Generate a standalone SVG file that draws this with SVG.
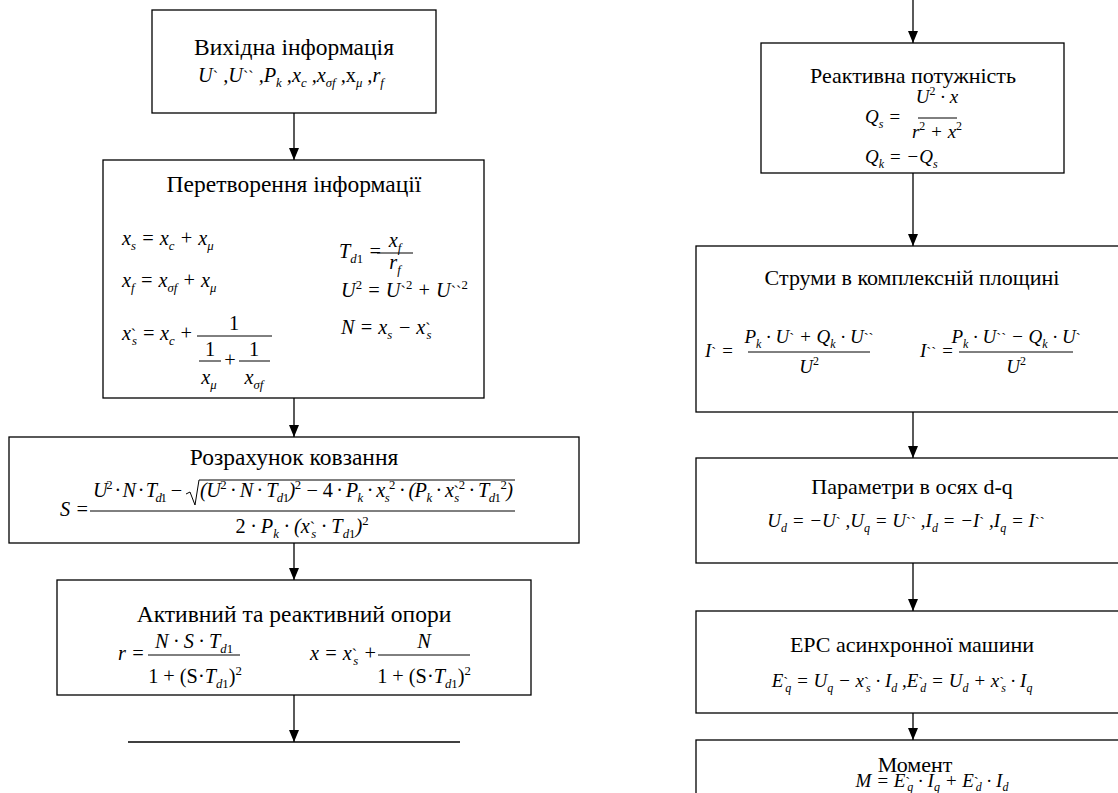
<svg xmlns="http://www.w3.org/2000/svg" width="1118" height="793" viewBox="0 0 1118 793" font-family="'Liberation Serif', serif">
<style>
.bx{fill:#fff;stroke:#000;stroke-width:1.3}
.ti{font-family:"Liberation Serif",serif;font-size:22px;text-anchor:middle;fill:#000}
.tl{font-size:23.5px}
.m{font-family:"Liberation Serif",serif;font-size:19px;font-style:italic;fill:#000}
.ml{font-size:20.3px}
.c{text-anchor:middle}
.s{font-size:0.63em}
.u{font-style:normal}
.a{font-size:0.79em;font-style:normal}
.bar{stroke:#000;stroke-width:1;fill:none}
.cn{stroke:#000;stroke-width:1.3;fill:none}
</style>
<defs>
<marker id="ah" markerUnits="userSpaceOnUse" markerWidth="12" markerHeight="10" refX="12" refY="5" orient="auto" viewBox="0 0 12 10"><path d="M0,0L12,5L0,10z" fill="#000"/></marker>
</defs>
<rect width="1118" height="793" fill="#fff"/>

<g id="connectors">
<line class="cn" x1="294" y1="113" x2="294" y2="160" marker-end="url(#ah)"/>
<line class="cn" x1="294" y1="398" x2="294" y2="437" marker-end="url(#ah)"/>
<line class="cn" x1="294" y1="543" x2="294" y2="580" marker-end="url(#ah)"/>
<line class="cn" x1="294" y1="695" x2="294" y2="742" marker-end="url(#ah)"/>
<line class="cn" x1="913" y1="0" x2="913" y2="43" marker-end="url(#ah)"/>
<line class="cn" x1="913" y1="173" x2="913" y2="246" marker-end="url(#ah)"/>
<line class="cn" x1="913" y1="412" x2="913" y2="458" marker-end="url(#ah)"/>
<line class="cn" x1="913" y1="563" x2="913" y2="611" marker-end="url(#ah)"/>
<line class="cn" x1="913" y1="713" x2="913" y2="740" marker-end="url(#ah)"/>
</g>

<g id="n1">
<rect class="bx" x="152" y="10" width="284" height="103"/>
<text class="ti tl" x="294" y="55">Вихідна інформація</text>
<text class="m ml c" x="291" y="82">U<tspan class="a">`</tspan> ,U<tspan class="a">``</tspan> ,P<tspan class="s" dy="5">k</tspan><tspan dy="-5"> ,x</tspan><tspan class="s" dy="5">c</tspan><tspan dy="-5"> ,x</tspan><tspan class="s" dy="5">σf</tspan><tspan dy="-5"> ,</tspan><tspan class="u">x</tspan><tspan class="s" dy="5">μ</tspan><tspan dy="-5"> ,r</tspan><tspan class="s" dy="5">f</tspan></text>
</g>

<g id="n2">
<rect class="bx" x="103" y="160" width="381" height="238"/>
<text class="ti tl" x="294" y="192">Перетворення інформації</text>
<text class="m ml" x="122" y="245">x<tspan class="s" dy="5">s</tspan><tspan dy="-5"> = x</tspan><tspan class="s" dy="5">c</tspan><tspan dy="-5"> + x</tspan><tspan class="s" dy="5">μ</tspan></text>
<text class="m ml" x="122" y="287">x<tspan class="s" dy="5">f</tspan><tspan dy="-5"> = x</tspan><tspan class="s" dy="5">σf</tspan><tspan dy="-5"> + x</tspan><tspan class="s" dy="5">μ</tspan></text>
<text class="m ml" x="122" y="340" textLength="71" lengthAdjust="spacing">x<tspan class="a">`</tspan><tspan class="s" dx="-4" dy="5">s</tspan><tspan dy="-5"> = x</tspan><tspan class="s" dy="5">c</tspan><tspan dy="-5"> +</tspan></text>
<text class="m ml c u" x="234" y="330">1</text>
<line class="bar" x1="197" y1="336" x2="272" y2="336"/>
<text class="m ml c u" x="210" y="356">1</text>
<line class="bar" x1="199" y1="361" x2="221" y2="361"/>
<text class="m ml c u" x="230" y="367">+</text>
<text class="m ml c u" x="254" y="356">1</text>
<line class="bar" x1="239" y1="361" x2="270" y2="361"/>
<text class="m ml c" x="209" y="384">x<tspan class="s" dy="5">μ</tspan></text>
<text class="m ml c" x="254" y="384">x<tspan class="s" dy="5">σf</tspan></text>
<text class="m ml" x="339" y="258">T<tspan class="s" dy="5">d<tspan class="u">1</tspan></tspan><tspan dy="-5"> =</tspan></text>
<text class="m ml c" x="395" y="247">x<tspan class="s" dy="5">f</tspan></text>
<line class="bar" x1="377" y1="253" x2="413" y2="253"/>
<text class="m ml c" x="395" y="269">r<tspan class="s" dy="5">f</tspan></text>
<text class="m ml" x="341" y="297">U<tspan class="s u" dy="-8">2</tspan><tspan dy="8"> = U</tspan><tspan class="a">`</tspan><tspan class="s u" dy="-8">2</tspan><tspan dy="8"> + U</tspan><tspan class="a">``</tspan><tspan class="s u" dy="-8">2</tspan></text>
<text class="m ml" x="341" y="334">N = x<tspan class="s" dy="5">s</tspan><tspan dy="-5"> − x</tspan><tspan class="a">`</tspan><tspan class="s" dx="-4" dy="5">s</tspan></text>
</g>

<g id="n3">
<rect class="bx" x="9" y="437" width="570" height="106"/>
<text class="ti tl" x="294" y="465">Розрахунок ковзання</text>
<text class="m ml" x="60" y="516">S =</text>
<line class="bar" x1="90" y1="511" x2="515" y2="511"/>
<text class="m ml" x="93" y="497" textLength="90" lengthAdjust="spacing">U<tspan class="s u" dy="-8">2</tspan><tspan dy="8"> · N · T</tspan><tspan class="s" dy="5">d<tspan class="u">1</tspan></tspan><tspan dy="-5"> −</tspan></text>
<path class="bar" d="M186,494L190,492L195,505L199,480L515,480"/>
<text class="m ml" x="200" y="497" textLength="313" lengthAdjust="spacing">(U<tspan class="s u" dy="-8">2</tspan><tspan dy="8"> · N · T</tspan><tspan class="s" dy="5">d<tspan class="u">1</tspan></tspan><tspan dy="-5">)</tspan><tspan class="s u" dy="-8">2</tspan><tspan dy="8"> − </tspan><tspan class="u">4</tspan> · P<tspan class="s" dy="5">k</tspan><tspan dy="-5"> · x</tspan><tspan class="s" dy="5">s</tspan><tspan class="s u" dy="-13">2</tspan><tspan dy="8"> · (P</tspan><tspan class="s" dy="5">k</tspan><tspan dy="-5"> · x</tspan><tspan class="a">`</tspan><tspan class="s" dx="-4" dy="5">s</tspan><tspan class="s u" dy="-13">2</tspan><tspan dy="8"> · T</tspan><tspan class="s" dy="5">d<tspan class="u">1</tspan></tspan><tspan class="s u" dy="-13">2</tspan><tspan dy="8">)</tspan></text>
<text class="m ml c" x="302" y="533"><tspan class="u">2</tspan> · P<tspan class="s" dy="5">k</tspan><tspan dy="-5"> · (x</tspan><tspan class="a">`</tspan><tspan class="s" dx="-4" dy="5">s</tspan><tspan dy="-5"> · T</tspan><tspan class="s" dy="5">d<tspan class="u">1</tspan></tspan><tspan dy="-5">)</tspan><tspan class="s u" dy="-8">2</tspan></text>
</g>

<g id="n4">
<rect class="bx" x="57" y="580" width="474" height="115"/>
<text class="ti tl" x="294" y="622">Активний та реактивний опори</text>
<text class="m ml" x="118" y="660">r =</text>
<text class="m ml c" x="194" y="648">N · S · T<tspan class="s" dy="5">d<tspan class="u">1</tspan></tspan></text>
<line class="bar" x1="148" y1="655" x2="240" y2="655"/>
<text class="m ml c" x="195" y="683"><tspan class="u">1 + (S·</tspan>T<tspan class="s" dy="5">d<tspan class="u">1</tspan></tspan><tspan class="u" dy="-5">)</tspan><tspan class="s u" dy="-8">2</tspan></text>
<text class="m ml" x="310" y="660">x = x<tspan class="a">`</tspan><tspan class="s" dx="-4" dy="5">s</tspan><tspan dy="-5"> +</tspan></text>
<text class="m ml c" x="424" y="648">N</text>
<line class="bar" x1="378" y1="655" x2="470" y2="655"/>
<text class="m ml c" x="424" y="683"><tspan class="u">1 + (S·</tspan>T<tspan class="s" dy="5">d<tspan class="u">1</tspan></tspan><tspan class="u" dy="-5">)</tspan><tspan class="s u" dy="-8">2</tspan></text>
</g>

<g id="n5">
<line class="cn" x1="128" y1="742" x2="460" y2="742"/>
</g>

<g id="n6">
<rect class="bx" x="761" y="43" width="303" height="130"/>
<text class="ti" x="913" y="83">Реактивна потужність</text>
<text class="m" x="865" y="123">Q<tspan class="s" dy="5">s</tspan><tspan dy="-5"> =</tspan></text>
<text class="m c" x="937" y="103">U<tspan class="s u" dy="-8">2</tspan><tspan dy="8"> · x</tspan></text>
<line class="bar" x1="918" y1="118" x2="957" y2="118"/>
<text class="m c" x="937" y="138">r<tspan class="s u" dy="-8">2</tspan><tspan dy="8"> + x</tspan><tspan class="s u" dy="-8">2</tspan></text>
<text class="m" x="865" y="163">Q<tspan class="s" dy="5">k</tspan><tspan dy="-5"> = −Q</tspan><tspan class="s" dy="5">s</tspan></text>
</g>

<g id="n7">
<rect class="bx" x="696" y="246" width="440" height="166"/>
<text class="ti" x="912" y="285">Струми в комплексній площині</text>
<text class="m" x="705" y="357">I<tspan class="a">`</tspan> =</text>
<text class="m c" x="809" y="343">P<tspan class="s" dy="5">k</tspan><tspan dy="-5"> · U</tspan><tspan class="a">`</tspan> + Q<tspan class="s" dy="5">k</tspan><tspan dy="-5"> · U</tspan><tspan class="a">``</tspan></text>
<line class="bar" x1="748" y1="352" x2="870" y2="352"/>
<text class="m c" x="809" y="373">U<tspan class="s u" dy="-8">2</tspan></text>
<text class="m" x="920" y="357">I<tspan class="a">``</tspan> =</text>
<text class="m c" x="1016" y="343">P<tspan class="s" dy="5">k</tspan><tspan dy="-5"> · U</tspan><tspan class="a">``</tspan> − Q<tspan class="s" dy="5">k</tspan><tspan dy="-5"> · U</tspan><tspan class="a">`</tspan></text>
<line class="bar" x1="959" y1="352" x2="1073" y2="352"/>
<text class="m c" x="1016" y="373">U<tspan class="s u" dy="-8">2</tspan></text>
</g>

<g id="n8">
<rect class="bx" x="696" y="458" width="440" height="105"/>
<text class="ti" x="912" y="494">Параметри в осях d-q</text>
<text class="m c" x="906" y="527">U<tspan class="s" dy="5">d</tspan><tspan dy="-5"> = −U</tspan><tspan class="a">`</tspan> ,U<tspan class="s" dy="5">q</tspan><tspan dy="-5"> = U</tspan><tspan class="a">``</tspan> ,I<tspan class="s" dy="5">d</tspan><tspan dy="-5"> = −I</tspan><tspan class="a">`</tspan> ,I<tspan class="s" dy="5">q</tspan><tspan dy="-5"> = I</tspan><tspan class="a">``</tspan></text>
</g>

<g id="n9">
<rect class="bx" x="696" y="611" width="440" height="102"/>
<text class="ti" x="912" y="652">ЕРС асинхронної машини</text>
<text class="m c" x="902" y="687">E<tspan class="a">`</tspan><tspan class="s" dx="-3" dy="5">q</tspan><tspan dy="-5"> = U</tspan><tspan class="s" dy="5">q</tspan><tspan dy="-5"> − x</tspan><tspan class="a">`</tspan><tspan class="s" dx="-3" dy="5">s</tspan><tspan dy="-5"> · I</tspan><tspan class="s" dy="5">d</tspan><tspan dy="-5"> ,E</tspan><tspan class="a">`</tspan><tspan class="s" dx="-3" dy="5">d</tspan><tspan dy="-5"> = U</tspan><tspan class="s" dy="5">d</tspan><tspan dy="-5"> + x</tspan><tspan class="a">`</tspan><tspan class="s" dx="-3" dy="5">s</tspan><tspan dy="-5"> · I</tspan><tspan class="s" dy="5">q</tspan></text>
</g>

<g id="n10">
<rect class="bx" x="696" y="740" width="440" height="70"/>
<text class="ti" x="915" y="772">Момент</text>
<text class="m c" x="932" y="787">M = E<tspan class="a">`</tspan><tspan class="s" dx="-3" dy="4">q</tspan><tspan dy="-4"> · I</tspan><tspan class="s" dy="4">q</tspan><tspan dy="-4"> + E</tspan><tspan class="a">`</tspan><tspan class="s" dx="-3" dy="4">d</tspan><tspan dy="-4"> · I</tspan><tspan class="s" dy="4">d</tspan></text>
</g>
</svg>
